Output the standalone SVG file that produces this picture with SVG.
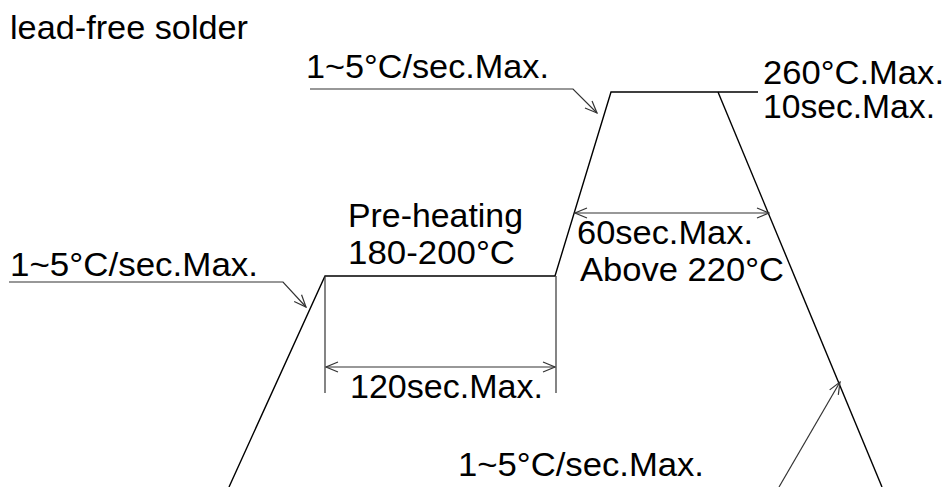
<svg xmlns="http://www.w3.org/2000/svg" width="947" height="487" viewBox="0 0 947 487">
<defs>
<style>
.t{font-family:"Liberation Sans",Arial,sans-serif;font-size:33px;fill:#000}
.c{fill:none;stroke:#000;stroke-width:1.4}
.l{fill:none;stroke:#333;stroke-width:1.2}
</style>
<marker id="ah" viewBox="0 0 14 12" refX="13" refY="6" markerWidth="14" markerHeight="12" markerUnits="userSpaceOnUse" orient="auto-start-reverse">
<path d="M1,1 L13,6 L1,11" fill="none" stroke="#333" stroke-width="1.2"/>
</marker>
</defs>
<rect width="947" height="487" fill="#fff"/>
<g id="profile">
<path class="c" d="M229,487 L325,276 L555,276 L611,92 L758,92"/>
<path class="c" d="M718,92 L882,487"/>
</g>
<g id="connectors">
<path class="l" d="M325,276 V393"/>
<path class="l" d="M556,276 V393"/>
<path class="l" d="M326,367 H555" marker-start="url(#ah)" marker-end="url(#ah)"/>
<path class="l" d="M575,213 H769" marker-start="url(#ah)" marker-end="url(#ah)"/>
<path class="l" d="M310,89 H573 L597,113" marker-end="url(#ah)"/>
<path class="l" d="M9,282 H283 L306,307" marker-end="url(#ah)"/>
<path class="l" d="M779,487 L840,382" marker-end="url(#ah)"/>
</g>
<g id="title"><text class="t" x="10" y="39" textLength="238" lengthAdjust="spacingAndGlyphs">lead-free solder</text></g>
<g id="ramp-top"><text class="t" x="306" y="78" textLength="243" lengthAdjust="spacingAndGlyphs">1~5°C/sec.Max.</text></g>
<g id="peak">
<text class="t" x="763" y="84" textLength="181" lengthAdjust="spacingAndGlyphs">260°C.Max.</text>
<text class="t" x="763" y="118" textLength="172" lengthAdjust="spacingAndGlyphs">10sec.Max.</text>
</g>
<g id="preheat">
<text class="t" x="348" y="227" textLength="175" lengthAdjust="spacingAndGlyphs">Pre-heating</text>
<text class="t" x="348" y="264" textLength="167" lengthAdjust="spacingAndGlyphs">180-200°C</text>
</g>
<g id="reflow">
<text class="t" x="577" y="244" textLength="176" lengthAdjust="spacingAndGlyphs">60sec.Max.</text>
<text class="t" x="580" y="281" textLength="204" lengthAdjust="spacingAndGlyphs">Above 220°C</text>
</g>
<g id="ramp-left"><text class="t" x="10" y="276" textLength="248" lengthAdjust="spacingAndGlyphs">1~5°C/sec.Max.</text></g>
<g id="preheat-time"><text class="t" x="350" y="398" textLength="193" lengthAdjust="spacingAndGlyphs">120sec.Max.</text></g>
<g id="cooling"><text class="t" x="458" y="476" textLength="246" lengthAdjust="spacingAndGlyphs">1~5°C/sec.Max.</text></g>
</svg>
